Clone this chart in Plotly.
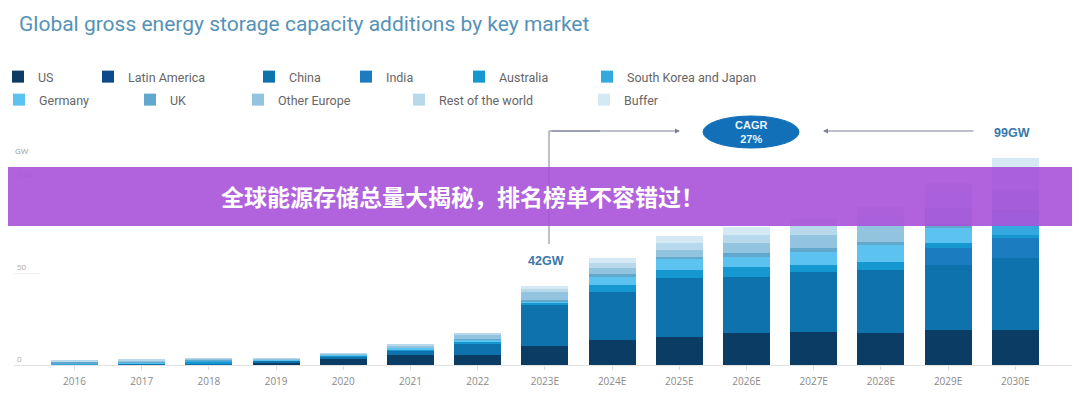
import plotly.graph_objects as go

years = ["2016", "2017", "2018", "2019", "2020", "2021", "2022", "2023E",
         "2024E", "2025E", "2026E", "2027E", "2028E", "2029E", "2030E"]

us            = [0.3, 0.3, 0.2, 1.3, 3.0, 5.4, 5.4, 10.3, 13.6, 15.2, 17.4, 17.9, 17.4, 19.0, 19.0]
latin_america = [0.0, 0.0, 0.0, 0.0, 0.0, 0.0, 0.0, 0.0, 0.0, 0.0, 0.0, 0.0, 0.0, 0.0, 0.0]
china         = [0.1, 0.3, 0.3, 1.0, 1.6, 2.4, 6.5, 22.8, 26.1, 32.1, 30.4, 32.6, 34.2, 35.3, 39.1]
india         = [0.0, 0.0, 0.0, 0.0, 0.0, 0.0, 0.0, 0.0, 0.0, 0.0, 0.0, 0.0, 0.0, 9.2, 10.9]
australia     = [0.0, 0.0, 1.2, 0.4, 0.6, 0.8, 0.8, 0.6, 3.8, 4.3, 5.4, 3.8, 4.3, 2.7, 1.6]
sk_japan      = [0.3, 0.2, 0.6, 0.0, 0.0, 0.0, 0.0, 0.0, 0.0, 0.0, 0.0, 0.0, 0.0, 0.0, 5.4]
germany       = [0.3, 0.5, 0.3, 0.4, 0.5, 0.9, 1.0, 1.0, 4.3, 6.0, 5.4, 7.1, 9.2, 8.2, 6.5]
uk            = [0.7, 0.5, 0.4, 0.0, 0.0, 0.0, 0.6, 0.8, 1.6, 1.1, 2.2, 2.2, 1.6, 2.0, 2.0]
other_europe  = [0.3, 0.9, 0.5, 0.4, 0.5, 1.0, 1.8, 4.1, 3.3, 3.8, 5.4, 7.1, 9.2, 9.0, 10.5]
rest_of_world = [0.2, 0.6, 0.3, 0.3, 0.3, 0.9, 1.3, 1.6, 2.7, 3.8, 4.3, 4.6, 5.0, 8.5, 12.0]
buffer        = [0.0, 0.0, 0.0, 0.0, 0.0, 0.0, 0.0, 1.7, 2.8, 3.8, 4.5, 4.6, 5.0, 5.0, 5.5]

series_names = ["US", "Latin America", "China", "India", "Australia", "South Korea and Japan",
                "Germany", "UK", "Other Europe", "Rest of the world", "Buffer"]
series_values = [us, latin_america, china, india, australia, sk_japan,
                 germany, uk, other_europe, rest_of_world, buffer]
series_colors = ["#0b3c64", "#0c4a8c", "#0e73ad", "#1b7dc0", "#1598d0", "#34a9df",
                 "#5cc2ef", "#62a8cd", "#93c4df", "#b8d9eb", "#d4e9f4"]

yticks = [0, 50, 100]
ytick_labels = ["0", "50", "100"]

title_text = "Global gross energy storage capacity additions by key market"
banner_text = "全球能源存储总量大揭秘，排名榜单不容错过！"
cagr_text = "CAGR<br>27%"
label_2023 = "42GW"
label_2030 = "99GW"
unit_text = "GW"

# page offset of the figure inside the browser window (default body margin)
OX, OY = 8, 8
W, H = 1080 - OX, 395 - OY
# plot area in window pixels: x 14..1078, y 136..365
PLOT_L, PLOT_R, PLOT_T, PLOT_B = 14, 1078, 136, 365
ML = PLOT_L - OX
MR = W - (PLOT_R - OX)
MT = PLOT_T - OY
MB = H - (PLOT_B - OY)
PW = W - ML - MR
PH = H - MT - MB
SCALE = 1.84       # pixels per GW
CAT_STEP = 67.2    # pixels per category
CAT0 = 74.5        # window x of first category


def px(xp):
    """window pixel x -> paper coordinate"""
    return (xp - OX - ML) / PW


def py(yp):
    """window pixel y -> paper coordinate"""
    return (H - MB - (yp - OY)) / PH


# legend text positions (window pixels)
legend_pos = [(38, 77), (128, 77), (289, 77), (386, 77), (499, 77), (627, 77),
              (39, 100), (170, 100), (278, 100), (439, 100), (624, 100)]

fig = go.Figure()
for i, (name, vals, col) in enumerate(zip(series_names, series_values, series_colors)):
    lg = "legend" if i == 0 else f"legend{i + 1}"
    fig.add_trace(go.Bar(x=years, y=vals, name=name, marker=dict(color=col, line=dict(width=0)),
                         legend=lg))

layout_legends = {}
for i, (tx, ty) in enumerate(legend_pos):
    key = "legend" if i == 0 else f"legend{i + 1}"
    layout_legends[key] = dict(
        x=px(tx - 40), y=py(ty), xref="paper", yref="paper",
        xanchor="left", yanchor="middle", bgcolor="rgba(0,0,0,0)",
        borderwidth=0, font=dict(family="Roboto", size=12.5, color="#666666"),
        itemclick=False, itemdoubleclick=False,
    )

fig.update_layout(
    width=W, height=H,
    margin=dict(l=ML, r=MR, t=MT, b=MB, autoexpand=False),
    barmode="stack", bargap=0.30,
    plot_bgcolor="white", paper_bgcolor="white",
    showlegend=True,
    **layout_legends,
)

fig.update_xaxes(
    range=[(PLOT_L - CAT0) / CAT_STEP, (PLOT_R - CAT0) / CAT_STEP],
    showgrid=False, zeroline=False,
    showline=True, linecolor="#e2e2e2", linewidth=1,
    ticks="outside", ticklen=4, tickcolor="#dddddd",
    ticklabelstandoff=3,
    tickfont=dict(family="Open Sans", size=10, color="#8a8a8a"),
)
fig.update_yaxes(
    range=[0, PH / SCALE], showgrid=False, zeroline=False, showline=False,
    tickvals=yticks, ticktext=ytick_labels,
    ticks="inside", ticklen=26, tickcolor="#eeeeee",
    ticklabelposition="inside top",
    tickfont=dict(family="Open Sans", size=8, color="#aaaaaa"),
)

shapes = []
# arrows' vertical leg
shapes.append(dict(type="line", xref="paper", yref="paper",
                   x0=px(549), x1=px(549), y0=py(131), y1=py(244),
                   line=dict(color="#7d8196", width=1)))
shapes.append(dict(type="line", xref="paper", yref="paper",
                   x0=px(549), x1=px(600), y0=py(131), y1=py(131),
                   line=dict(color="#7d8196", width=1)))
# CAGR ellipse
shapes.append(dict(type="circle", xref="paper", yref="paper",
                   x0=px(703), x1=px(799), y0=py(116), y1=py(148),
                   fillcolor="#1170b8", line=dict(color="#1170b8", width=1)))
# banner
shapes.append(dict(type="rect", xref="paper", yref="paper",
                   x0=px(0), x1=px(1080), y0=py(167), y1=py(226),
                   fillcolor="rgba(167,82,216,0.9)", line=dict(width=0)))

annotations = [
    dict(text=title_text, x=px(17), y=py(24), xref="paper", yref="paper",
         xanchor="left", yanchor="middle", showarrow=False,
         font=dict(family="Roboto", size=21, color="#5592b8")),
    dict(text=unit_text, x=px(13), y=py(150), xref="paper", yref="paper",
         xanchor="left", yanchor="middle", showarrow=False,
         font=dict(family="Open Sans", size=8, color="#9a9a9a")),
    dict(text=label_2023, x=px(546), y=py(261), xref="paper", yref="paper",
         xanchor="center", yanchor="middle", showarrow=False,
         font=dict(family="Liberation Sans", size=12.5, color="#3a78aa", weight="bold")),
    dict(text=label_2030, x=px(1012), y=py(133), xref="paper", yref="paper",
         xanchor="center", yanchor="middle", showarrow=False,
         font=dict(family="Liberation Sans", size=12.5, color="#3a78aa", weight="bold")),
    dict(text=cagr_text, x=px(751), y=py(132), xref="paper", yref="paper",
         xanchor="center", yanchor="middle", showarrow=False, align="center",
         font=dict(family="Liberation Sans", size=11, color="#e8f4ff", weight="bold")),
    # right-pointing arrow
    dict(text="", x=px(680), y=py(131), xref="paper", yref="paper",
         showarrow=True, ax=-130, ay=0, axref="pixel", ayref="pixel",
         arrowhead=2, arrowsize=1, arrowwidth=1, arrowcolor="#7d8196", standoff=0),
    # left-pointing arrow
    dict(text="", x=px(823), y=py(131), xref="paper", yref="paper",
         showarrow=True, ax=152, ay=0, axref="pixel", ayref="pixel",
         arrowhead=2, arrowsize=1, arrowwidth=1, arrowcolor="#7d8196", standoff=0),
    dict(text=banner_text, x=px(462), y=py(196), xref="paper", yref="paper",
         xanchor="center", yanchor="middle", showarrow=False,
         font=dict(family="Noto Sans CJK SC", size=23, color="white", weight="bold")),
]

fig.update_layout(shapes=shapes, annotations=annotations)
fig.write_html("out.html")
